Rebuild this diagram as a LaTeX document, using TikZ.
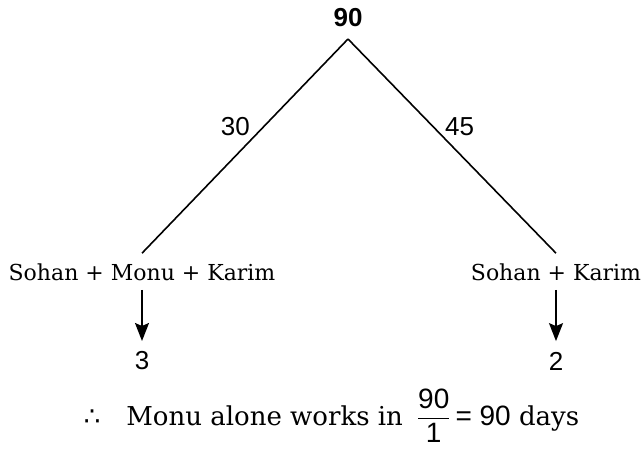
\documentclass[tikz,border=0pt]{standalone}
\usepackage{amsmath}
\usepackage{fontspec}
\setmainfont{DejaVu Serif}
\newfontfamily\numfont{Liberation Sans}
\newfontfamily\symfont{DejaVu Sans}
\usetikzlibrary{arrows.meta}
\begin{document}
\begin{tikzpicture}[x=1pt, y=-1pt, line width=1.6pt,
  font=\fontsize{22}{26}\selectfont,
  num/.style={font=\numfont\fontsize{26}{30}\selectfont},
  person/.style={text height=17pt, text depth=0pt, inner xsep=2pt, inner ysep=9pt},
  down/.style={-{Stealth[length=18pt, width=14pt, inset=3pt]}, shorten >=8pt}]
\useasboundingbox (0,0) rectangle (644,452);
\node[font=\numfont\bfseries\fontsize{26}{30}\selectfont, inner xsep=1pt, inner ysep=11pt] (total) at (348,18) {90};
\node[person] (smk) at (142,271.5) {Sohan + Monu + Karim};
\node[person] (sk) at (556,271.5) {Sohan + Karim};
\node[num, inner sep=2pt] (smkval) at (142,361) {3};
\node[num, inner sep=2pt] (skval) at (556,361) {2};

\draw (total.south) -- node[num, pos=.41, anchor=east, inner xsep=13pt] {30} (smk.north);
\draw (total.south) -- node[num, pos=.41, anchor=west, inner xsep=11pt] {45} (sk.north);
\draw[down] (smk.south) -- (smkval.north);
\draw[down] (sk.south) -- (skval.north);

\node[anchor=base west, inner sep=0pt, font=\fontsize{26}{30}\selectfont] (result) at (83,425)
  {{\symfont ∴}\hspace{26pt}Monu alone works in\hspace{14pt}$\dfrac{\text{\numfont\fontsize{28}{30}\selectfont 90}}{\text{\numfont\fontsize{28}{30}\selectfont 1}}$\hspace{5pt}{\numfont\fontsize{28}{30}\selectfont = 90} days};
\end{tikzpicture}
\end{document}
